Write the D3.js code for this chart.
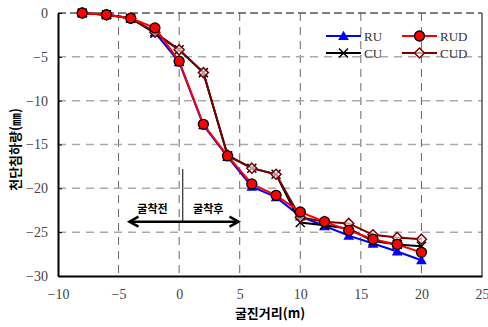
<!DOCTYPE html>
<html>
<head>
<meta charset="utf-8">
<script src="https://cdn.jsdelivr.net/npm/d3@7/dist/d3.min.js"></script>
<style>
  html, body { margin: 0; padding: 0; background: #fff; }
  svg { display: block; }
</style>
</head>
<body>
<svg id="chart" width="488" height="327"></svg>
<script>
// Tunnel crown settlement vs. excavation distance
const distance = [-8, -6, -4, -2, 0, 2, 4, 6, 8, 10, 12, 14, 16, 18, 20];
const ruValues  = [0, -0.2, -0.6, -2.2, -5.6, -12.8, -16.4, -19.8, -21.0, -23.2, -24.3, -25.4, -26.3, -27.2, -28.2];
const rudValues = [0, -0.2, -0.6, -1.7, -5.5, -12.7, -16.3, -19.5, -20.8, -22.7, -23.8, -24.8, -25.8, -26.4, -27.3];
const cuValues  = [0, -0.2, -0.6, -2.3, -4.2, -6.8, -16.3, -17.7, -18.4, -23.9, -24.2, -24.6, -26.0, -26.4, -26.6];
const cudValues = [0, -0.2, -0.6, -2.2, -4.2, -6.8, -16.2, -17.7, -18.4, -23.3, -23.8, -24.0, -25.3, -25.6, -25.8];
const xTicks = [-10, -5, 0, 5, 10, 15, 20, 25];
const yTicks = [0, -5, -10, -15, -20, -25, -30];

const seriesList = [
  { name: "RU",  values: ruValues,  color: "#0000ff", marker: "triangle" },
  { name: "RUD", values: rudValues, color: "#ff0000", marker: "circle" },
  { name: "CU",  values: cuValues,  color: "#000000", marker: "cross" },
  { name: "CUD", values: cudValues, color: "#7a0000", marker: "diamond" }
];
// draw order: back to front
const drawOrder = ["RU", "CU", "CUD", "RUD"];

const svg = d3.select("#chart");
const margin = { left: 58, right: 6, top: 13, bottom: 51 };
const W = 488, H = 327;
const x = d3.scaleLinear().domain([-10, 25]).range([margin.left, W - margin.right]);
const y = d3.scaleLinear().domain([-30, 0]).range([H - margin.bottom, margin.top]);
const serif = "'Liberation Serif', 'DejaVu Serif', serif";
const kfont = "'Noto Sans CJK KR', sans-serif";

// grid
const grid = svg.append("g");
grid.selectAll("line.v").data(xTicks.filter(t => t > -10 && t < 25)).join("line")
  .attr("x1", d => x(d)).attr("x2", d => x(d))
  .attr("y1", y(0)).attr("y2", y(-30))
  .attr("stroke", "#666").attr("stroke-width", 1).attr("stroke-dasharray", "8,6");
grid.selectAll("line.h").data(yTicks.filter(t => t < 0 && t > -30)).join("line")
  .attr("x1", x(-10)).attr("x2", x(25))
  .attr("y1", d => y(d)).attr("y2", d => y(d))
  .attr("stroke", "#aaa").attr("stroke-width", 1.5).attr("stroke-dasharray", "8,6");

// frame: top dashed, right solid
svg.append("line").attr("x1", x(-10)).attr("x2", x(25)).attr("y1", y(0)).attr("y2", y(0))
  .attr("stroke", "#555").attr("stroke-width", 1.5).attr("stroke-dasharray", "8,4");
svg.append("line").attr("x1", x(25)).attr("x2", x(25)).attr("y1", y(0)).attr("y2", y(-30))
  .attr("stroke", "#555").attr("stroke-width", 1.5);

// axes
const yAxis = d3.axisLeft(y).tickValues(yTicks).tickSizeInner(-4).tickSizeOuter(0).tickPadding(10)
  .tickFormat(d => d === 0 ? "0" : "\u2212" + Math.abs(d));
const gy = svg.append("g").attr("transform", `translate(${x(-10)},0)`).call(yAxis);
gy.select(".domain").attr("stroke", "#000").attr("stroke-width", 2);
gy.selectAll(".tick line").attr("stroke", "#000");
gy.selectAll("text").attr("font-family", serif).attr("font-size", 14).attr("fill", "#444");

const xAxis = d3.axisBottom(x).tickValues(xTicks).tickSize(0).tickPadding(13)
  .tickFormat(d => d < 0 ? "\u2212" + Math.abs(d) : String(d));
const gx = svg.append("g").attr("transform", `translate(0,${y(-30)})`).call(xAxis);
gx.select(".domain").attr("stroke", "#000").attr("stroke-width", 2);
gx.selectAll("text").attr("font-family", serif).attr("font-size", 14).attr("fill", "#444");

// axis titles
svg.append("text").attr("x", 270).attr("y", 318).attr("text-anchor", "middle")
  .attr("font-family", kfont).attr("font-weight", "bold").attr("font-size", 13)
  .text("굴진거리(m)");
svg.append("text").attr("transform", `translate(20,${(y(0) + y(-30)) / 2 + 5}) rotate(-90)`)
  .attr("text-anchor", "middle")
  .attr("font-family", kfont).attr("font-weight", "bold").attr("font-size", 13)
  .text("천단침하량(㎜)");

// excavation-face annotation
const ann = svg.append("g");
const arrowY = y(-23.8);
ann.append("line").attr("x1", x(0.3)).attr("x2", x(0.3)).attr("y1", y(-17.8)).attr("y2", arrowY)
  .attr("stroke", "#000").attr("stroke-width", 1);
ann.append("line").attr("x1", x(-4.1)).attr("x2", x(4.9)).attr("y1", arrowY).attr("y2", arrowY)
  .attr("stroke", "#000").attr("stroke-width", 2.5);
const ah = 9, aw = 5;
ann.append("path")
  .attr("d", `M${x(-4.1) + ah},${arrowY - aw} L${x(-4.1)},${arrowY} L${x(-4.1) + ah},${arrowY + aw}`)
  .attr("fill", "none").attr("stroke", "#000").attr("stroke-width", 2.5);
ann.append("path")
  .attr("d", `M${x(4.9) - ah},${arrowY - aw} L${x(4.9)},${arrowY} L${x(4.9) - ah},${arrowY + aw}`)
  .attr("fill", "none").attr("stroke", "#000").attr("stroke-width", 2.5);
ann.append("text").attr("x", x(-2.2)).attr("y", arrowY - 9).attr("text-anchor", "middle")
  .attr("font-family", kfont).attr("font-weight", "bold").attr("font-size", 11).text("굴착전");
ann.append("text").attr("x", x(2.4)).attr("y", arrowY - 9).attr("text-anchor", "middle")
  .attr("font-family", kfont).attr("font-weight", "bold").attr("font-size", 11).text("굴착후");

// markers
function drawMarker(g, type, cx, cy, color) {
  if (type === "triangle") {
    g.append("path").attr("d", d3.symbol(d3.symbolTriangle, 50)())
      .attr("transform", `translate(${cx},${cy + 1})`).attr("fill", color);
  } else if (type === "circle") {
    g.append("circle").attr("cx", cx).attr("cy", cy).attr("r", 5)
      .attr("fill", "#ff0000").attr("stroke", "#000").attr("stroke-width", 1.3);
  } else if (type === "cross") {
    const s = 4.5;
    g.append("path").attr("d", `M${cx - s},${cy - s}L${cx + s},${cy + s}M${cx - s},${cy + s}L${cx + s},${cy - s}`)
      .attr("stroke", color).attr("stroke-width", 1.5);
  } else if (type === "diamond") {
    const s = 5;
    g.append("path").attr("d", `M${cx},${cy - s}L${cx + s},${cy}L${cx},${cy + s}L${cx - s},${cy}Z`)
      .attr("fill", "#fff").attr("fill-opacity", 0.6).attr("stroke", color).attr("stroke-width", 1.5);
  }
}

const line = d3.line().x(d => x(d[0])).y(d => y(d[1]));
const plot = svg.append("g");
drawOrder.forEach(name => {
  const s = seriesList.find(v => v.name === name);
  const pts = distance.map((d, i) => [d, s.values[i]]);
  const g = plot.append("g");
  g.append("path").datum(pts).attr("d", line)
    .attr("fill", "none").attr("stroke", s.color).attr("stroke-width", 2);
  pts.forEach(p => drawMarker(g, s.marker, x(p[0]), y(p[1]), s.color));
});

// legend
const legend = svg.append("g");
const legendPos = [
  { name: "RU",  lx: 326, ly: 36 },
  { name: "RUD", lx: 402, ly: 36 },
  { name: "CU",  lx: 326, ly: 53 },
  { name: "CUD", lx: 402, ly: 53 }
];
legendPos.forEach(p => {
  const s = seriesList.find(v => v.name === p.name);
  const g = legend.append("g");
  g.append("line").attr("x1", p.lx).attr("x2", p.lx + 35).attr("y1", p.ly).attr("y2", p.ly)
    .attr("stroke", s.color).attr("stroke-width", 2);
  drawMarker(g, s.marker, p.lx + 17.5, p.ly, s.color);
  g.append("text").attr("x", p.lx + 38).attr("y", p.ly + 5)
    .attr("font-family", serif).attr("font-size", 13).attr("fill", "#333").text(s.name);
});
</script>
</body>
</html>
